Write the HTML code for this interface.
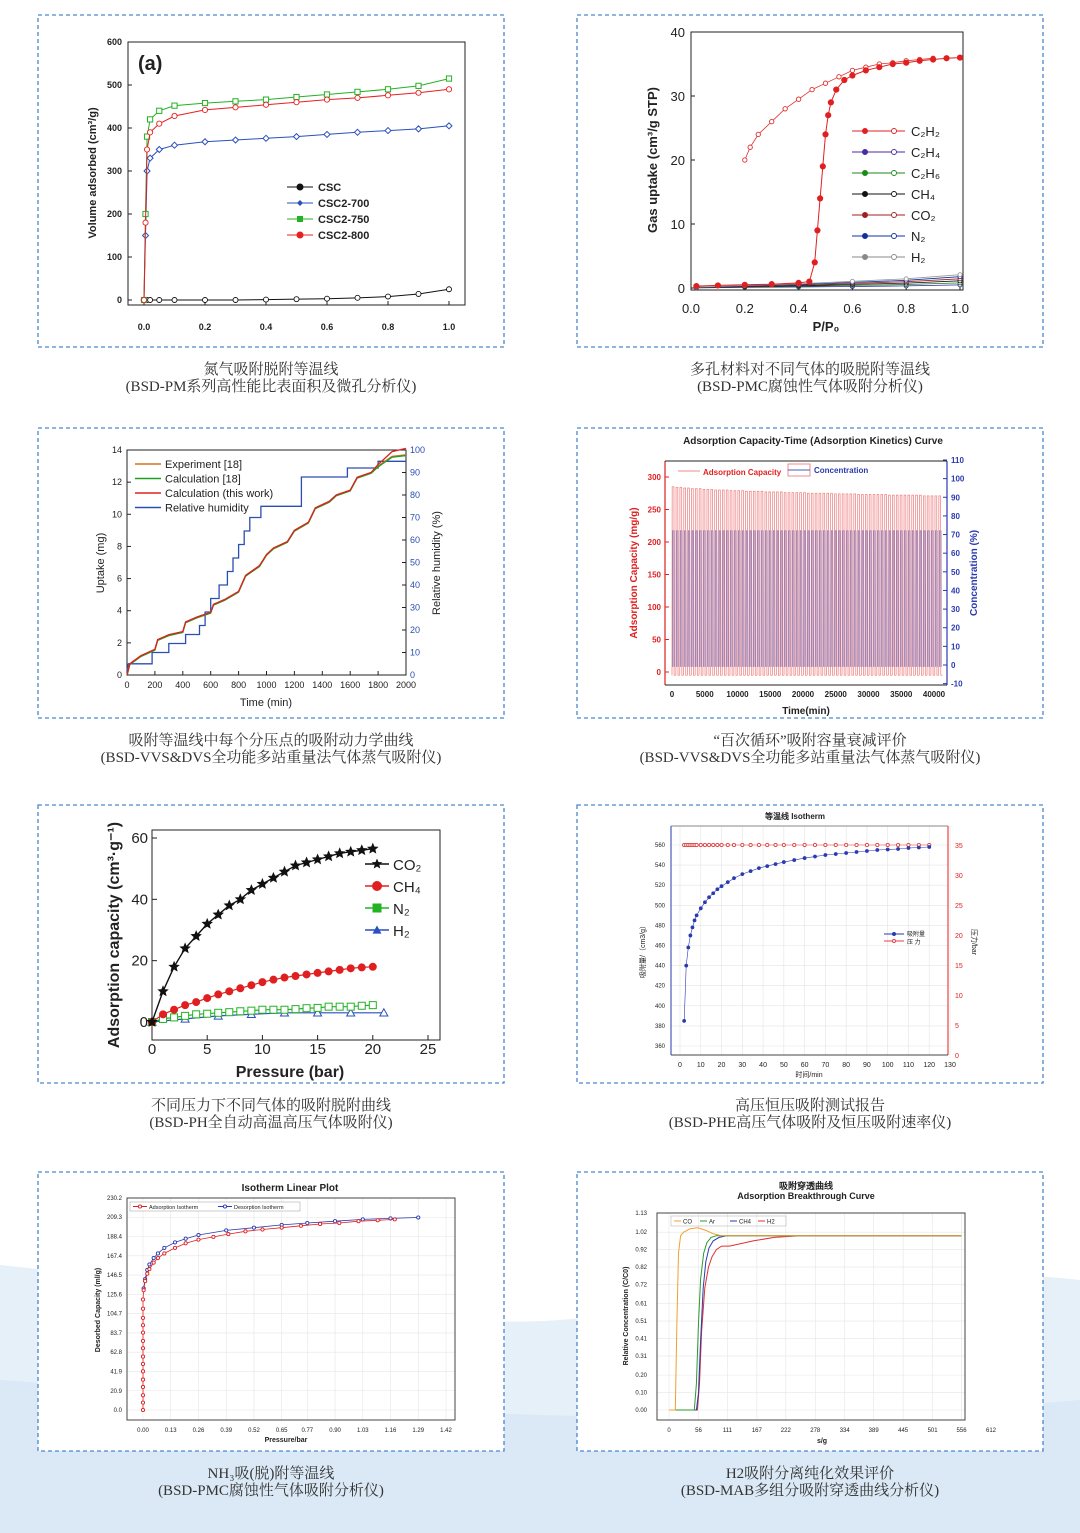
<!DOCTYPE html>
<html><head><meta charset="utf-8"><style>
html,body{margin:0;padding:0;background:#fff;width:1080px;height:1533px;overflow:hidden}
svg{display:block}
text{font-family:"Liberation Sans",sans-serif}
.cap{font-family:"Liberation Serif","Noto Serif CJK SC",serif;font-size:15px;fill:#333}
</style></head><body>
<svg id="root" width="1080" height="1533" viewBox="0 0 1080 1533" xmlns="http://www.w3.org/2000/svg">
<path d="M0 1265 C250 1290 420 1330 560 1320 C760 1305 900 1260 1080 1280 L1080 1533 L0 1533Z" fill="#e6f0f9"/>
<path d="M0 1380 C300 1400 600 1440 1080 1400 L1080 1533 L0 1533Z" fill="#dbe9f6"/>
</svg>
<script>
const NS='http://www.w3.org/2000/svg';
const root=document.getElementById('root');
function el(tag,attrs,parent){const e=document.createElementNS(NS,tag);for(const k in attrs)e.setAttribute(k,attrs[k]);(parent||root).appendChild(e);return e;}
function lin(d0,d1,p0,p1){return v=>p0+(v-d0)*(p1-p0)/(d1-d0);}
function T(x,y,s,a,parent){const t=el('text',Object.assign({x:x,y:y,'font-size':9,fill:'#222'},a||{}),parent);t.textContent=s;return t;}
function grp(){return el('g',{});}

/* ---------- boxes & captions ---------- */
const boxX=[38,577],boxY=[15,428,805,1172],boxH=[332,290,278,279];
const captions=[["氮气吸附脱附等温线","(BSD-PM系列高性能比表面积及微孔分析仪)"],["多孔材料对不同气体的吸脱附等温线","(BSD-PMC腐蚀性气体吸附分析仪)"],
["吸附等温线中每个分压点的吸附动力学曲线","(BSD-VVS&DVS全功能多站重量法气体蒸气吸附仪)"],["“百次循环”吸附容量衰减评价","(BSD-VVS&DVS全功能多站重量法气体蒸气吸附仪)"],
["不同压力下不同气体的吸附脱附曲线","(BSD-PH全自动高温高压气体吸附仪)"],["高压恒压吸附测试报告","(BSD-PHE高压气体吸附及恒压吸附速率仪)"],
["NH₃吸(脱)附等温线","(BSD-PMC腐蚀性气体吸附分析仪)"],["H2吸附分离纯化效果评价","(BSD-MAB多组分吸附穿透曲线分析仪)"]];
for(let r=0;r<4;r++)for(let c=0;c<2;c++){
 const b=el('rect',{x:boxX[c],y:boxY[r],width:466,height:boxH[r],fill:'#fff',stroke:'#4a86cf','stroke-width':1.3,'stroke-dasharray':'4 3'});
 
 
 const cp=captions[r*2+c];const cx=boxX[c]+233,cy=boxY[r]+boxH[r]+27;
 const t1=T(cx,cy,cp[0],{class:'cap','text-anchor':'middle'});
 
 
 const t2=T(cx,cy+17,cp[1],{class:'cap','text-anchor':'middle'});
 
 
}

function marker(g,x,y,type,color,r){
 r=r||3;let m;
 if(type==='fc')m=el('circle',{cx:x,cy:y,r:r,fill:color,stroke:color},g);
 else if(type==='oc')m=el('circle',{cx:x,cy:y,r:r,fill:'#fff',stroke:color,'stroke-width':0.9},g);
 else if(type==='fs')m=el('rect',{x:x-r,y:y-r,width:2*r,height:2*r,fill:color},g);
 else if(type==='os')m=el('rect',{x:x-r,y:y-r,width:2*r,height:2*r,fill:'#fff',stroke:color},g);
 else if(type==='fd')m=el('polygon',{points:`${x},${y-r} ${x+r},${y} ${x},${y+r} ${x-r},${y}`,fill:color},g);
 else if(type==='od')m=el('polygon',{points:`${x},${y-r} ${x+r},${y} ${x},${y+r} ${x-r},${y}`,fill:'#fff',stroke:color},g);
 else if(type==='ft')m=el('polygon',{points:`${x},${y-r} ${x+r},${y+r*0.8} ${x-r},${y+r*0.8}`,fill:color},g);
 else if(type==='ot')m=el('polygon',{points:`${x},${y-r} ${x+r},${y+r*0.8} ${x-r},${y+r*0.8}`,fill:'#fff',stroke:color},g);
 else if(type==='star'||type==='ostar'){let p=[];for(let i=0;i<10;i++){const a=-Math.PI/2+i*Math.PI/5,rr=i%2?r*0.45:r;p.push((x+rr*Math.cos(a)).toFixed(1)+','+(y+rr*Math.sin(a)).toFixed(1));}
  m=el('polygon',{points:p.join(' '),fill:type==='star'?color:'#fff',stroke:color,'stroke-width':0.8},g);}
 if(m){}
}
function series(g,xs,ys,sx,sy,color,mk,w,r){
 const pts=xs.map((v,i)=>sx(v).toFixed(1)+','+sy(ys[i]).toFixed(1)).join(' ');
 const l=el('polyline',{points:pts,fill:'none',stroke:color,'stroke-width':w||1.2},g);
 
 
 if(mk)xs.forEach((v,i)=>marker(g,sx(v),sy(ys[i]),mk,color,r));
}
function frame(g,x,y,w,h,col){const f=el('rect',{x:x,y:y,width:w,height:h,fill:'none',stroke:col||'#222','stroke-width':1},g);}

/* ---------- Chart 1: N2 isotherm ---------- */
const c1Ticks=[0,100,200,300,400,500,600], c1XTicks=[0,0.2,0.4,0.6,0.8,1.0];
const c1X=[0,0.005,0.01,0.02,0.05,0.1,0.2,0.3,0.4,0.5,0.6,0.7,0.8,0.9,1.0];
const c1CSC=[0,0,0,0,0,0,0,0,1,2,3,5,8,14,25];
const c1_700=[0,150,300,330,350,360,368,372,376,380,385,390,394,398,405];
const c1_750=[0,200,380,420,440,452,458,462,466,472,478,484,490,498,515];
const c1_800=[0,180,350,390,410,428,442,448,454,460,466,470,476,482,490];
{const g=grp();
 const sx=lin(0,1,144,449),sy=lin(0,600,300,42);
 frame(g,128,42,337,263);
 c1Ticks.forEach(v=>{el('line',{x1:128,x2:132,y1:sy(v),y2:sy(v),stroke:'#222'},g);T(122,sy(v)+3,v,{'text-anchor':'end','font-family':'Liberation Serif','font-weight':'bold'},g);});
 c1XTicks.forEach(v=>{el('line',{x1:sx(v),x2:sx(v),y1:305,y2:301,stroke:'#222'},g);T(sx(v),330,v.toFixed(1),{'text-anchor':'middle','font-family':'Liberation Serif','font-weight':'bold'},g);});
 const yt=T(0,0,'Volume adsorbed (cm³/g)',{'font-family':'Liberation Serif','font-weight':'bold','font-size':11,'text-anchor':'middle',transform:'translate(96,173) rotate(-90)'},g);
 
 T(138,70,'(a)',{'font-family':'Liberation Serif','font-weight':'bold','font-size':20},g);
 series(g,c1X,c1CSC,sx,sy,'#111','oc',1,2.5);
 series(g,c1X,c1_700,sx,sy,'#2a4fc0','od',1,3);
 series(g,c1X,c1_750,sx,sy,'#23b223','os',1,2.6);
 series(g,c1X,c1_800,sx,sy,'#e82020','oc',1,2.6);
 const lg=[['CSC','#111','fc'],['CSC2-700','#2a4fc0','fd'],['CSC2-750','#23b223','fs'],['CSC2-800','#e82020','fc']];
 lg.forEach((d,i)=>{const y=187+i*16;el('line',{x1:287,x2:313,y1:y,y2:y,stroke:d[1]},g);marker(g,300,y,d[2],d[1],3);
  const t=T(318,y+4,d[0],{'font-family':'Liberation Serif','font-weight':'bold','font-size':11},g);});
}

/* ---------- Chart 2: gas isotherms ---------- */
const c2Ticks=[0,10,20,30,40], c2XTicks=[0,0.2,0.4,0.6,0.8,1.0];
const c2AdsX=[0.02,0.1,0.2,0.3,0.4,0.44,0.46,0.47,0.48,0.49,0.5,0.51,0.52,0.54,0.57,0.6,0.65,0.7,0.75,0.8,0.85,0.9,0.95,1.0];
const c2AdsY=[0.3,0.4,0.5,0.6,0.8,1,4,9,14,19,24,27,29,31,32.5,33.2,34,34.5,35,35.2,35.5,35.7,35.9,36];
const c2DesX=[0.2,0.22,0.25,0.3,0.35,0.4,0.45,0.5,0.55,0.6,0.65,0.7,0.75,0.8,0.85,0.9];
const c2DesY=[20,22,24,26,28,29.5,31,32,33,34,34.5,35,35.2,35.5,35.7,35.9];
const c2LowX=[0.02,0.2,0.4,0.6,0.8,1.0];
const c2LowY=[0.1,0.3,0.5,0.8,1.1,1.6];
{const g=grp();
 const sx=lin(0,1,691,960),sy=lin(0,40,288,32);
 frame(g,691,32,272,258);
 c2Ticks.forEach(v=>{el('line',{x1:691,x2:695,y1:sy(v),y2:sy(v),stroke:'#222'},g);T(685,sy(v)+5,v,{'text-anchor':'end','font-size':13},g);});
 c2XTicks.forEach(v=>{el('line',{x1:sx(v),x2:sx(v),y1:290,y2:286,stroke:'#222'},g);T(sx(v),313,v.toFixed(1),{'text-anchor':'middle','font-size':13},g);});
 const yt=T(0,0,'Gas uptake (cm³/g STP)',{'font-weight':'bold','font-size':13,'text-anchor':'middle',transform:'translate(657,160) rotate(-90)'},g);
 const xt=T(826,331,'P/P₀',{'font-weight':'bold','font-size':13,'text-anchor':'middle'},g);
 const cols=['#2a2aa0','#1a7a1a','#111','#a02020','#1030a0','#999'];
 cols.forEach((c,i)=>series(g,c2LowX,c2LowY.map(v=>v*(0.3+i*0.2)),sx,sy,c,'oc',0.8,2));
 series(g,c2DesX,c2DesY,sx,sy,'#e03030','oc',0.8,2.2);
 series(g,c2AdsX,c2AdsY,sx,sy,'#e02020','fc',1,2.6);
 const lg=[['C₂H₂','#e02020'],['C₂H₄','#4a2aa0'],['C₂H₆','#1a8a1a'],['CH₄','#111'],['CO₂','#a02020'],['N₂','#1030a0'],['H₂','#888']];
 lg.forEach((d,i)=>{const y=131+i*21;el('line',{x1:852,x2:905,y1:y,y2:y,stroke:d[1]},g);marker(g,865,y,'fc',d[1],2.5);marker(g,894,y,'oc',d[1],2.5);
  const t=T(911,y+5,d[0],{'font-size':13},g);});
}

/* ---------- Chart 3: kinetics ---------- */
const c3YTicks=[0,2,4,6,8,10,12,14], c3RTicks=[0,10,20,30,40,50,60,70,80,90,100], c3XTicks=[0,200,400,600,800,1000,1200,1400,1600,1800,2000];
const c3T=[0,20,100,200,220,300,400,420,500,600,620,700,800,850,950,1000,1050,1150,1200,1300,1350,1450,1500,1600,1650,1750,1800,1900,2000];
const c3U=[0,0.7,1.2,1.6,2.2,2.5,2.7,3.3,3.6,3.9,4.4,4.7,5.2,6.2,6.8,7.5,7.9,8.3,9.0,9.5,10.4,10.8,11.2,11.5,12.3,12.6,13.0,13.6,13.7];
const c3URed=[0,0.7,1.2,1.6,2.2,2.5,2.7,3.3,3.6,3.9,4.4,4.7,5.2,6.2,6.8,7.5,7.9,8.3,9.0,9.5,10.4,10.8,11.2,11.5,12.3,12.6,13.1,13.9,14.1];
const c3RhT=[0,10,180,180,300,300,420,420,520,520,560,560,600,600,660,660,720,720,760,760,800,800,840,840,880,880,960,960,1250,1250,1580,1580,1800,1800,2000];
const c3Rh=[2,5,5,10,10,14,14,18,18,22,22,28,28,34,34,40,40,46,46,52,52,58,58,64,64,70,70,75,75,88,88,92,92,95,95];
{const g=grp();
 const sx=lin(0,2000,127,406),sy=lin(0,14,675,450),ry=lin(0,100,675,450);
 frame(g,127,450,279,225);
 c3YTicks.forEach(v=>{el('line',{x1:127,x2:131,y1:sy(v),y2:sy(v),stroke:'#222'},g);T(122,sy(v)+3,v,{'text-anchor':'end'},g);});
 c3RTicks.forEach(v=>{el('line',{x1:402,x2:406,y1:ry(v),y2:ry(v),stroke:'#222'},g);T(410,ry(v)+3,v,{fill:'#2a4fb0'},g);});
 c3XTicks.forEach(v=>{el('line',{x1:sx(v),x2:sx(v),y1:675,y2:671,stroke:'#222'},g);T(sx(v),688,v,{'text-anchor':'middle'},g);});
 T(0,0,'Uptake (mg)',{'font-family':'Liberation Serif','font-size':11,'text-anchor':'middle',transform:'translate(104,563) rotate(-90)'},g);
 T(0,0,'Relative humidity (%)',{'font-family':'Liberation Serif','font-size':11,'text-anchor':'middle',transform:'translate(440,563) rotate(-90)'},g);
 T(266,706,'Time (min)',{'font-family':'Liberation Serif','font-size':11,'text-anchor':'middle'},g);
 series(g,c3RhT,c3Rh,sx,ry,'#2a4fb0',null,1.3);
 series(g,c3T,c3U,sx,sy,'#d07020',null,1.3);
 series(g,c3T,c3U.map(v=>v-0.05),sx,sy,'#20a020',null,1.3);
 series(g,c3T,c3URed,sx,sy,'#e02020',null,1.3);
 const lg=[['Experiment [18]','#d07020'],['Calculation [18]','#20a020'],['Calculation (this work)','#e02020'],['Relative humidity','#2a4fb0']];
 lg.forEach((d,i)=>{const y=464+i*14.5;el('line',{x1:135,x2:161,y1:y,y2:y,stroke:d[1],'stroke-width':1.5},g);
  T(165,y+4,d[0],{'font-family':'Liberation Serif','font-size':11},g);});
}

/* ---------- Chart 4: cycling ---------- */
const c4YTicks=[0,50,100,150,200,250,300], c4RTicks=[-10,0,10,20,30,40,50,60,70,80,90,100,110], c4XTicks=[0,5000,10000,15000,20000,25000,30000,35000,40000];
const c4RedPeaks=[285,284,284,283,283,282,282,282,281,281,281,280,280,280,280,279,279,279,279,278,278,278,278,278,277,277,277,277,277,276,276,276,276,276,276,275,275,275,275,275,275,275,274,274,274,274,274,274,273,273,273,273,273,273,273,273,272,272,272,272,272,272,272,272,272,271,271,271,271,271];
const c4Conc=[72,72,72,72,72,72,72,72,72,72,72,72,72,72,72,72,72,72,72,72,72,72,72,72,72,72,72,72,72,72,72,72,72,72,72,72,72,72,72,72,72,72,72,72,72,72,72,72,72,72,72,72,72,72,72,72,72,72,72,72,72,72,72,72,72,72,72,72,72,72];
const c4Start=0, c4End=41300;
{const g=grp();
 const sx=lin(0,40000,672,934),sy=lin(0,300,672,477),ry=lin(0,110,665,460);
 T(813,444,'Adsorption Capacity-Time (Adsorption Kinetics) Curve',{'font-weight':'bold','font-size':10,'text-anchor':'middle'},g);
 const n=c4RedPeaks.length,per=(c4End-c4Start)/n;
 c4Conc.forEach((v,i)=>{const t0=c4Start+i*per;
  const b=el('polyline',{points:`${sx(t0+per*0.1)},${ry(-1)} ${sx(t0+per*0.15)},${ry(v)} ${sx(t0+per*0.6)},${ry(v)} ${sx(t0+per*0.65)},${ry(-1)}`,fill:'#b8c0e8',stroke:'#4a5ac0','stroke-width':0.7},g);
  });
 c4RedPeaks.forEach((v,i)=>{const t0=c4Start+i*per;
  const r=el('polyline',{points:`${sx(t0)},${sy(-5)} ${sx(t0+per*0.05)},${sy(v)} ${sx(t0+per*0.5)},${sy(v)} ${sx(t0+per*0.55)},${sy(-5)} ${sx(t0+per)},${sy(-5)}`,fill:'none',stroke:'#f08a8a','stroke-width':0.8},g);
  });
 el('line',{x1:665,x2:665,y1:461,y2:685,stroke:'#e02020','stroke-width':1.2},g);
 el('line',{x1:947,x2:947,y1:461,y2:685,stroke:'#2a3ab0','stroke-width':1.2},g);
 el('line',{x1:665,x2:947,y1:685,y2:685,stroke:'#222'},g);el('line',{x1:665,x2:947,y1:461,y2:461,stroke:'#222'},g);
 c4YTicks.forEach(v=>{el('line',{x1:665,x2:669,y1:sy(v),y2:sy(v),stroke:'#e02020'},g);T(661,sy(v)+3,v,{'text-anchor':'end',fill:'#e02020','font-size':8,'font-weight':'bold'},g);});
 c4RTicks.forEach(v=>{el('line',{x1:943,x2:947,y1:ry(v),y2:ry(v),stroke:'#2a3ab0'},g);T(951,ry(v)+3,v,{fill:'#2a3ab0','font-size':8,'font-weight':'bold'},g);});
 c4XTicks.forEach(v=>{T(sx(v),697,v,{'text-anchor':'middle','font-size':8,'font-weight':'bold'},g);});
 T(0,0,'Adsorption Capacity (mg/g)',{'font-weight':'bold','font-size':10,fill:'#e02020','text-anchor':'middle',transform:'translate(637,573) rotate(-90)'},g);
 T(0,0,'Concentration (%)',{'font-weight':'bold','font-size':10,fill:'#2a3ab0','text-anchor':'middle',transform:'translate(977,573) rotate(-90)'},g);
 T(806,714,'Time(min)',{'font-weight':'bold','font-size':10,'text-anchor':'middle'},g);
 el('line',{x1:678,x2:700,y1:471,y2:471,stroke:'#f08a8a'},g);T(703,475,'Adsorption Capacity',{fill:'#e02020','font-size':8,'font-weight':'bold'},g);
 el('rect',{x:788,y:464,width:22,height:12,fill:'none',stroke:'#f08a8a'},g);el('line',{x1:788,x2:810,y1:470,y2:470,stroke:'#4a5ac0'},g);
 T(814,473,'Concentration',{fill:'#2a3ab0','font-size':8,'font-weight':'bold'},g);
}

/* ---------- Chart 5: high pressure ---------- */
const c5YTicks=[0,20,40,60], c5XTicks=[0,5,10,15,20,25];
const c5CO2X=[0,1,2,3,4,5,6,7,8,9,10,11,12,13,14,15,16,17,18,19,20];
const c5CO2Y=[0,10,18,24,28,32,35,38,40,43,45,47,49,51,52,53,54,55,55.5,56,56.5];
const c5CH4X=[0,1,2,3,4,5,6,7,8,9,10,11,12,13,14,15,16,17,18,19,20];
const c5CH4Y=[0,2.5,4,5.5,6.5,7.8,9,10,11,12,13,13.8,14.5,15,15.5,16,16.5,17,17.5,17.8,18];
const c5N2X=[0,1,2,3,4,5,6,7,8,9,10,11,12,13,14,15,16,17,18,19,20];
const c5N2Y=[0,1,1.5,2,2.5,2.7,3,3.2,3.5,3.7,4,4,4,4.2,4.5,4.6,5,5,5,5.3,5.5];
const c5H2X=[0,3,6,9,12,15,18,21];
const c5H2Y=[0,1,2,2.5,3,3,3,3];
{const g=grp();
 const sx=lin(0,25,152,428),sy=lin(0,60,1022,838);
 frame(g,152,830,288,210);
 c5YTicks.forEach(v=>{el('line',{x1:152,x2:157,y1:sy(v),y2:sy(v),stroke:'#222'},g);T(148,sy(v)+5,v,{'text-anchor':'end','font-size':15},g);});
 c5XTicks.forEach(v=>{el('line',{x1:sx(v),x2:sx(v),y1:1040,y2:1035,stroke:'#222'},g);T(sx(v),1054,v,{'text-anchor':'middle','font-size':15},g);});
 T(0,0,'Adsorption capacity (cm³·g⁻¹)',{'font-weight':'bold','font-size':16,'text-anchor':'middle',transform:'translate(119,935) rotate(-90)'},g);
 T(290,1077,'Pressure (bar)',{'font-weight':'bold','font-size':16,'text-anchor':'middle'},g);
 series(g,c5H2X,c5H2Y,sx,sy,'#2a4fc0','ot',1.2,4);
 series(g,c5N2X,c5N2Y,sx,sy,'#23b223','os',1.2,3.5);
 series(g,c5CH4X,c5CH4Y,sx,sy,'#e02020','fc',1.2,3.5);
 series(g,c5CO2X,c5CO2Y,sx,sy,'#111','star',1.4,5);
 const lg=[['CO₂','#111','star'],['CH₄','#e02020','fc'],['N₂','#23b223','fs'],['H₂','#2a4fc0','ft']];
 lg.forEach((d,i)=>{const y=864+i*22;el('line',{x1:365,x2:389,y1:y,y2:y,stroke:d[1],'stroke-width':1.5},g);marker(g,377,y,d[2],d[1],4.5);
  T(393,y+6,d[0],{'font-size':15},g);});
}

/* ---------- Chart 6: constant pressure ---------- */
const c6YTicks=[360,380,400,420,440,460,480,500,520,540,560], c6RTicks=[0,5,10,15,20,25,30,35], c6XTicks=[0,10,20,30,40,50,60,70,80,90,100,110,120,130];
const c6T=[2,3,4,5,6,7,8,10,12,14,16,18,20,23,26,30,34,38,42,46,50,55,60,65,70,75,80,85,90,95,100,105,110,115,120];
const c6Q=[385,440,458,470,478,485,490,497,503,508,512,516,519,523,527,531,534,537,539,541,543,545,547,548.5,550,551,552,553,554,555,555.5,556,557,557.5,558];
const c6P=[35,35,35,35,35,35,35,35,35,35,35,35,35,35,35,35,35,35,35,35,35,35,35,35,35,35,35,35,35,35,35,35,35,35,35];
{const g=grp();
 const sx=lin(0,130,680,950),sy=lin(360,560,1046,845),ry=lin(0,35,1055,845);
 T(795,819,'等温线 Isotherm',{'font-size':8,'font-weight':'bold','text-anchor':'middle','font-family':'Liberation Sans,Noto Sans CJK SC,sans-serif'},g);
 c6XTicks.forEach(v=>el('line',{x1:sx(v),x2:sx(v),y1:826,y2:1055,stroke:'#e4e4e4','stroke-width':0.6},g));
 c6YTicks.forEach(v=>el('line',{x1:671,x2:948,y1:sy(v),y2:sy(v),stroke:'#e4e4e4','stroke-width':0.6},g));
 el('line',{x1:671,x2:671,y1:826,y2:1055,stroke:'#2a3ab0'},g);
 el('line',{x1:948,x2:948,y1:826,y2:1055,stroke:'#e02020'},g);
 el('line',{x1:671,x2:948,y1:1055,y2:1055,stroke:'#444'},g);el('line',{x1:671,x2:948,y1:826,y2:826,stroke:'#888'},g);
 c6YTicks.forEach(v=>T(665,sy(v)+2,v,{'text-anchor':'end','font-size':6,'font-family':'Liberation Serif'},g));
 c6RTicks.forEach(v=>T(955,ry(v)+3,v,{'font-size':7,fill:'#e02020','font-family':'Liberation Serif'},g));
 c6XTicks.forEach(v=>T(sx(v),1067,v,{'text-anchor':'middle','font-size':7,'font-family':'Liberation Serif'},g));
 T(809,1077,'时间/min',{'text-anchor':'middle','font-size':7,'font-family':'Liberation Serif,Noto Serif CJK SC,serif'},g);
 T(0,0,'吸附量/（cm3/g）',{'text-anchor':'middle','font-size':7,'font-family':'Liberation Serif,Noto Serif CJK SC,serif',transform:'translate(645,950) rotate(-90)'},g);
 T(0,0,'压力/bar',{'text-anchor':'middle','font-size':7,'font-family':'Liberation Serif,Noto Serif CJK SC,serif',transform:'translate(972,942) rotate(90)'},g);
 series(g,c6T,c6P,sx,ry,'#e04040','oc',0.6,1.6);
 series(g,c6T,c6Q,sx,sy,'#2a3ab0','fc',0.6,1.4);
 el('line',{x1:884,x2:904,y1:934,y2:934,stroke:'#2a3ab0'},g);marker(g,894,934,'fc','#2a3ab0',1.5);
 T(907,936,'吸附量',{'font-size':6,'font-family':'Noto Serif CJK SC,serif'},g);
 el('line',{x1:884,x2:904,y1:941,y2:941,stroke:'#e04040'},g);marker(g,894,941,'oc','#e04040',1.5);
 T(907,944,'压 力',{'font-size':6,'font-family':'Noto Serif CJK SC,serif'},g);
}

/* ---------- Chart 7: NH3 isotherm ---------- */
const c7YTicks=[0,20.9,41.9,62.8,83.7,104.7,125.6,146.5,167.4,188.4,209.3,230.2];
const c7XTicks=[0,0.13,0.26,0.39,0.52,0.65,0.77,0.90,1.03,1.16,1.29,1.42];
const c7AdsX=[0,0,0,0,0,0,0,0,0,0,0,0,0,0,0,0.003,0.01,0.02,0.03,0.05,0.07,0.1,0.15,0.2,0.26,0.33,0.4,0.48,0.56,0.65,0.74,0.83,0.92,1.01,1.1,1.18];
const c7AdsY=[0,8,16,25,33,42,50,58,67,75,84,92,100,110,120,130,140,148,153,160,165,170,176,181,185,188,191,194,196,198,200,202,203,205,206,207];
const c7DesX=[1.29,1.16,1.03,0.9,0.77,0.65,0.52,0.39,0.26,0.2,0.15,0.1,0.07,0.05,0.03,0.02,0.01,0.003];
const c7DesY=[209,208,207,205,203,201,198,195,190,186,182,176,170,165,158,152,142,132];
{const g=grp();
 const sx=lin(0,1.42,143,446),sy=lin(0,230.2,1410,1198);
 T(290,1191,'Isotherm Linear Plot',{'font-weight':'bold','font-size':10,'text-anchor':'middle'},g);
 c7XTicks.forEach(v=>el('line',{x1:sx(v),x2:sx(v),y1:1198,y2:1420,stroke:'#e6e6e6','stroke-width':0.6},g));
 c7YTicks.forEach(v=>el('line',{x1:127,x2:455,y1:sy(v),y2:sy(v),stroke:'#e6e6e6','stroke-width':0.6},g));
 frame(g,127,1198,328,222,'#444');
 c7YTicks.forEach(v=>T(122,sy(v)+2,v.toFixed(1),{'text-anchor':'end','font-size':6},g));
 c7XTicks.forEach(v=>T(sx(v),1432,v.toFixed(2),{'text-anchor':'middle','font-size':6},g));
 T(286,1442,'Pressure/bar',{'font-weight':'bold','font-size':7,'text-anchor':'middle'},g);
 T(0,0,'Desorbed Capacity (ml/g)',{'font-weight':'bold','font-size':7,'text-anchor':'middle',transform:'translate(100,1310) rotate(-90)'},g);
 series(g,c7DesX,c7DesY,sx,sy,'#2a3ab0','oc',0.8,1.6);
 series(g,c7AdsX,c7AdsY,sx,sy,'#e02020','oc',0.8,1.6);
 el('rect',{x:130,y:1202,width:170,height:9,fill:'#fff',stroke:'#999','stroke-width':0.5},g);
 el('line',{x1:133,x2:147,y1:1206.5,y2:1206.5,stroke:'#e02020'},g);marker(g,140,1206.5,'oc','#e02020',1.6);
 T(149,1209,'Adsorption Isotherm',{'font-size':5.5},g);
 el('line',{x1:218,x2:232,y1:1206.5,y2:1206.5,stroke:'#2a3ab0'},g);marker(g,225,1206.5,'oc','#2a3ab0',1.6);
 T(234,1209,'Desorption Isotherm',{'font-size':5.5},g);
}

/* ---------- Chart 8: breakthrough ---------- */
const c8YTicks=[0,0.10,0.20,0.31,0.41,0.51,0.61,0.72,0.82,0.92,1.02,1.13];
const c8XTicks=[0,56,111,167,222,278,334,389,445,501,556,612];
const c8COx=[0,12,15,18,22,28,40,55,70,85,100,150,300,500,556];
const c8COy=[0,0,0.5,0.9,1.0,1.02,1.04,1.045,1.03,1.01,1.0,1.0,1.0,1.0,1.0];
const c8ArX=[0,48,52,56,60,66,72,80,90,100,150,300,556];
const c8ArY=[0,0,0.15,0.5,0.75,0.9,0.96,0.99,1.0,1.0,1.0,1.0,1.0];
const c8CH4X=[0,52,56,60,65,70,76,84,95,110,150,300,556];
const c8CH4Y=[0,0,0.1,0.4,0.7,0.85,0.93,0.97,0.99,1.0,1.0,1.0,1.0];
const c8H2X=[0,54,58,62,68,75,82,90,100,115,130,160,200,250,300,556];
const c8H2Y=[0,0,0.15,0.45,0.7,0.82,0.88,0.92,0.94,0.94,0.95,0.97,0.99,1.0,1.0,1.0];
{const g=grp();
 const sx=lin(0,612,669,991),sy=lin(0,1.13,1410,1213);
 T(806,1189,'吸附穿透曲线',{'font-weight':'bold','font-size':9,'text-anchor':'middle','font-family':'Liberation Sans,Noto Sans CJK SC,sans-serif'},g);
 T(806,1199,'Adsorption Breakthrough Curve',{'font-weight':'bold','font-size':9,'text-anchor':'middle'},g);
 c8XTicks.forEach(v=>{if(sx(v)<965)el('line',{x1:sx(v),x2:sx(v),y1:1213,y2:1420,stroke:'#e6e6e6','stroke-width':0.6},g);});
 c8YTicks.forEach(v=>el('line',{x1:657,x2:965,y1:sy(v),y2:sy(v),stroke:'#e6e6e6','stroke-width':0.6},g));
 frame(g,657,1213,308,207,'#444');
 c8YTicks.forEach(v=>T(647,sy(v)+2,v.toFixed(2),{'text-anchor':'end','font-size':6},g));
 c8XTicks.forEach(v=>T(sx(v),1432,v,{'text-anchor':'middle','font-size':6},g));
 T(822,1443,'s/g',{'font-weight':'bold','font-size':7,'text-anchor':'middle'},g);
 T(0,0,'Relative Concentration (C/C0)',{'font-weight':'bold','font-size':7,'text-anchor':'middle',transform:'translate(628,1316) rotate(-90)'},g);
 series(g,c8H2X,c8H2Y,sx,sy,'#e03030',null,1);
 series(g,c8CH4X,c8CH4Y,sx,sy,'#2a3ab0',null,1);
 series(g,c8ArX,c8ArY,sx,sy,'#2a9a2a',null,1);
 series(g,c8COx,c8COy,sx,sy,'#f0a030',null,1);
 const lg=[['CO','#f0a030',674],['Ar','#2a9a2a',700],['CH4','#2a3ab0',730],['H2','#e03030',758]];
 lg.forEach(d=>{el('line',{x1:d[2],x2:d[2]+7,y1:1221,y2:1221,stroke:d[1]},g);T(d[2]+9,1223.5,d[0],{'font-size':6},g);});
 el('rect',{x:671,y:1216,width:115,height:10,fill:'none',stroke:'#aaa','stroke-width':0.5},g);
}
</script>
</body></html>
